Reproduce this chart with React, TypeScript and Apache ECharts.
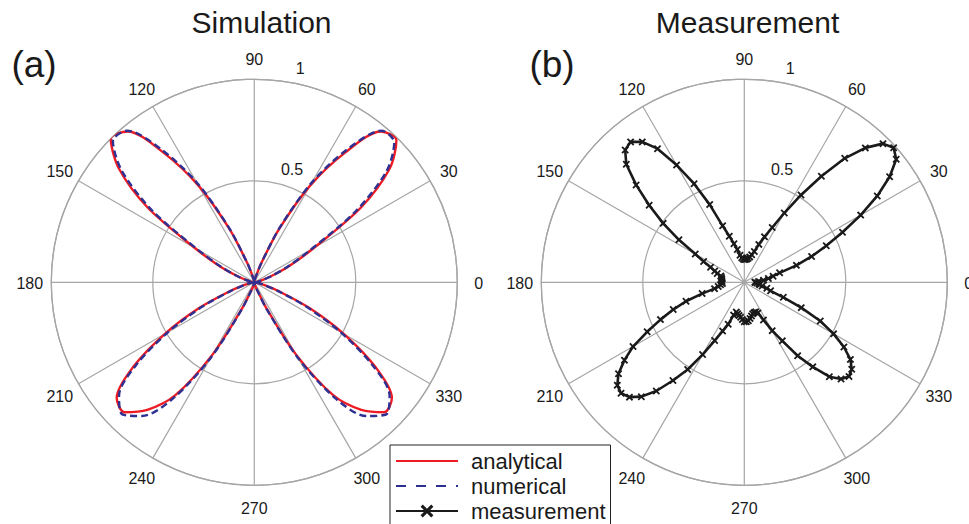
import React, { useEffect, useRef } from "react";
import * as echarts from "echarts";

// ---------- data ----------
const simAngles = [
  0, 5, 10, 15, 20, 25, 30, 35, 40, 45, 50, 55, 60, 65, 70, 75, 80, 85, 90,
  95, 100, 105, 110, 115, 120, 125, 130, 135, 140, 145, 150, 155, 160, 165, 170, 175, 180,
  185, 190, 195, 200, 205, 210, 215, 220, 225, 230, 235, 240, 245, 250, 255, 260, 265, 270,
  275, 280, 285, 290, 295, 300, 305, 310, 315, 320, 325, 330, 335, 340, 345, 350, 355, 360,
];
const analytical = [
  0, 0.01, 0.02, 0.04, 0.09, 0.19, 0.34, 0.64, 0.87, 0.99, 0.97, 0.78, 0.55, 0.29, 0.1, 0.03, 0.01, 0, 0,
  0, 0.01, 0.03, 0.1, 0.29, 0.55, 0.78, 0.97, 1.0, 0.87, 0.64, 0.34, 0.19, 0.09, 0.04, 0.02, 0.01, 0,
  0.01, 0.02, 0.05, 0.13, 0.3, 0.51, 0.73, 0.885, 0.905, 0.82, 0.68, 0.41, 0.14, 0.04, 0.02, 0.01, 0, 0,
  0, 0.01, 0.02, 0.04, 0.14, 0.41, 0.68, 0.82, 0.905, 0.885, 0.73, 0.51, 0.3, 0.13, 0.05, 0.02, 0.01, 0,
];
const numerical = [
  0, 0.01, 0.02, 0.04, 0.09, 0.18, 0.32, 0.61, 0.85, 0.975, 0.975, 0.8, 0.57, 0.3, 0.1, 0.03, 0.01, 0, 0,
  0, 0.01, 0.03, 0.1, 0.3, 0.57, 0.8, 0.975, 0.985, 0.85, 0.61, 0.32, 0.18, 0.09, 0.04, 0.02, 0.01, 0,
  0.01, 0.02, 0.05, 0.12, 0.28, 0.49, 0.71, 0.87, 0.92, 0.86, 0.7, 0.43, 0.15, 0.04, 0.02, 0.01, 0, 0,
  0, 0.01, 0.02, 0.04, 0.15, 0.43, 0.7, 0.86, 0.92, 0.87, 0.71, 0.49, 0.28, 0.12, 0.05, 0.02, 0.01, 0,
];
const measAngles = [
  0, 3, 6, 9, 12, 15, 18, 21, 24, 27, 30, 33, 36, 39, 42, 45, 48, 51, 54, 57,
  60, 63, 66, 69, 72, 75, 78, 81, 84, 87, 90, 93, 96, 99, 102, 105, 108, 111, 114, 117,
  120, 123, 126, 129, 132, 135, 138, 141, 144, 147, 150, 153, 156, 159, 162, 165, 168, 171, 174, 177,
  180, 183, 186, 189, 192, 195, 198, 201, 204, 207, 210, 213, 216, 219, 222, 225, 228, 231, 234, 237,
  240, 243, 246, 249, 252, 255, 258, 261, 264, 267, 270, 273, 276, 279, 282, 285, 288, 291, 294, 297,
  300, 303, 306, 309, 312, 315, 318, 321, 324, 327, 330, 333, 336, 339, 342, 345, 348, 351, 354, 357,
];
const measurement = [
  0.053, 0.07, 0.095, 0.12, 0.145, 0.18, 0.27, 0.355, 0.442, 0.543, 0.662, 0.781, 0.885, 0.963, 0.99, 0.966, 0.891, 0.786, 0.646, 0.513,
  0.394, 0.303, 0.245, 0.2, 0.16, 0.14, 0.128, 0.12, 0.115, 0.112, 0.112, 0.115, 0.122, 0.135, 0.165, 0.197, 0.239, 0.298, 0.419, 0.545,
  0.667, 0.785, 0.855, 0.89, 0.877, 0.822, 0.717, 0.603, 0.494, 0.384, 0.279, 0.225, 0.182, 0.156, 0.14, 0.12, 0.115, 0.113, 0.112, 0.111,
  0.11, 0.108, 0.118, 0.13, 0.15, 0.215, 0.302, 0.375, 0.452, 0.537, 0.633, 0.704, 0.766, 0.805, 0.817, 0.8, 0.758, 0.689, 0.598, 0.512,
  0.411, 0.322, 0.263, 0.221, 0.17, 0.152, 0.158, 0.165, 0.173, 0.184, 0.194, 0.195, 0.19, 0.18, 0.17, 0.16, 0.157, 0.156, 0.165, 0.208,
  0.275, 0.344, 0.447, 0.536, 0.626, 0.674, 0.694, 0.681, 0.646, 0.585, 0.508, 0.42, 0.307, 0.206, 0.136, 0.115, 0.09, 0.077, 0.072, 0.062,
];
const legendNames = ["analytical", "numerical", "measurement"];
const panelTitles = ["Simulation", "Measurement"];
const panelTags = ["(a)", "(b)"];

// ---------- styles ----------
const FONT = '"Liberation Sans", Arial, Helvetica, sans-serif';
const GRID = "#a6a6a6";
const INK = "#1a1a1a";
const RED = "#ed1c24";
const BLUE = "#2e3192";
const CENTERS = [
  [254.3, 282.3],
  [744.3, 282.3],
];
const RADIUS = 203;
const X_MARK =
  "path://M0,1.7L1.7,0L5,3.3L8.3,0L10,1.7L6.7,5L10,8.3L8.3,10L5,6.7L1.7,10L0,8.3L3.3,5Z";

export default function App() {
  const ref = useRef<HTMLDivElement>(null);

  useEffect(() => {
    if (!ref.current) return;
    const chart = echarts.init(ref.current, null, { renderer: "svg" });

    const polar = [
      { center: CENTERS[0], radius: RADIUS },
      { center: CENTERS[1], radius: RADIUS },
      { center: CENTERS[0], radius: RADIUS },
      { center: CENTERS[1], radius: RADIUS },
    ];
    const mainAngle = (i: number) => ({
      polarIndex: i,
      type: "value",
      min: 0,
      max: 360,
      interval: 30,
      startAngle: 0,
      clockwise: false,
      axisLine: { show: true, lineStyle: { color: GRID, width: 1.3 } },
      axisTick: { show: false },
      splitLine: { show: true, lineStyle: { color: GRID, width: 1.2 } },
      axisLabel: {
        show: true,
        margin: 21,
        color: INK,
        fontSize: 16,
        fontFamily: FONT,
        formatter: (v: number) => `{t|${v}}`,
        rich: {
          t: {
            width: 1,
            height: 1,
            lineHeight: 1,
            padding: [3, 0, 0, 0],
            align: "center",
            verticalAlign: "middle",
            fontSize: 16,
            fontFamily: FONT,
            color: INK,
          },
        },
      },
    });
    const labelAngle = (i: number) => ({
      polarIndex: i,
      type: "value",
      min: 0,
      max: 360,
      startAngle: 85.4,
      clockwise: false,
      show: false,
    });
    const mainRadius = (i: number) => ({
      polarIndex: i,
      type: "value",
      min: 0,
      max: 1,
      interval: 0.5,
      axisLine: { show: false },
      axisTick: { show: false },
      axisLabel: { show: false },
      splitLine: { show: true, lineStyle: { color: GRID, width: 1.2 } },
    });
    const labelRadius = (i: number) => ({
      polarIndex: i,
      type: "value",
      min: 0,
      max: 1,
      interval: 0.5,
      axisLine: { show: false },
      axisTick: { show: false },
      splitLine: { show: false },
      axisLabel: {
        show: true,
        margin: -29.7,
        align: "center",
        verticalAlign: "bottom",
        lineHeight: 28,
        color: INK,
        fontSize: 16,
        fontFamily: FONT,
        formatter: (v: number) => (v === 0 ? "" : String(v)),
      },
    });

    const graphic: any[] = [];
    panelTitles.forEach((t, i) => {
      graphic.push({
        type: "text",
        x: i === 0 ? 261.5 : 747.5,
        y: 22.5,
        style: { text: t, fontSize: 30, fontFamily: FONT, fill: INK, align: "center", verticalAlign: "middle" },
      });
    });
    panelTags.forEach((t, i) => {
      graphic.push({
        type: "text",
        x: i === 0 ? 34 : 552,
        y: 64,
        style: { text: t, fontSize: 37, fontFamily: FONT, fill: INK, align: "center", verticalAlign: "middle" },
      });
    });

    chart.setOption({
      animation: false,
      backgroundColor: "#ffffff",
      polar,
      angleAxis: [mainAngle(0), mainAngle(1), labelAngle(2), labelAngle(3)],
      radiusAxis: [mainRadius(0), mainRadius(1), labelRadius(2), labelRadius(3)],
      legend: {
        orient: "vertical",
        left: 390,
        top: 445,
        height: 120,
        data: [
          { name: legendNames[0], itemStyle: { opacity: 0 } },
          { name: legendNames[1], itemStyle: { opacity: 0 }, lineStyle: { type: [10, 10] } },
          { name: legendNames[2] },
        ],
        itemWidth: 62,
        itemHeight: 16,
        itemGap: 3,
        padding: [5, 5, 14, 5],
        borderColor: "#222",
        borderWidth: 1,
        borderRadius: 0,
        textStyle: { fontSize: 22, color: INK, fontFamily: FONT, padding: [0, 0, 0, 8] },
      },
      graphic,
      series: [
        {
          name: legendNames[0],
          type: "line",
          coordinateSystem: "polar",
          polarIndex: 0,
          data: simAngles.map((a, i) => [analytical[i], a]),
          symbol: "none",
          smooth: 0.3,
          lineStyle: { color: RED, width: 2.4 },
          itemStyle: { color: RED },
          z: 3,
        },
        {
          name: legendNames[1],
          type: "line",
          coordinateSystem: "polar",
          polarIndex: 0,
          data: simAngles.map((a, i) => [numerical[i], a]),
          symbol: "none",
          smooth: 0.3,
          lineStyle: { color: BLUE, width: 2.4, type: [7, 4] },
          itemStyle: { color: BLUE },
          z: 4,
        },
        {
          name: legendNames[2],
          type: "line",
          coordinateSystem: "polar",
          polarIndex: 1,
          data: [...measAngles.map((a, i) => [measurement[i], a]), [measurement[0], 360]],
          symbol: X_MARK,
          symbolSize: 7.5,
          showAllSymbol: true,
          lineStyle: { color: INK, width: 2.6 },
          itemStyle: { color: INK },
          z: 3,
        },
      ],
    });

    return () => chart.dispose();
  }, []);

  return (
    <div
      ref={ref}
      style={{ position: "fixed", left: 0, top: 0, width: 969, height: 524, background: "#fff" }}
    />
  );
}
